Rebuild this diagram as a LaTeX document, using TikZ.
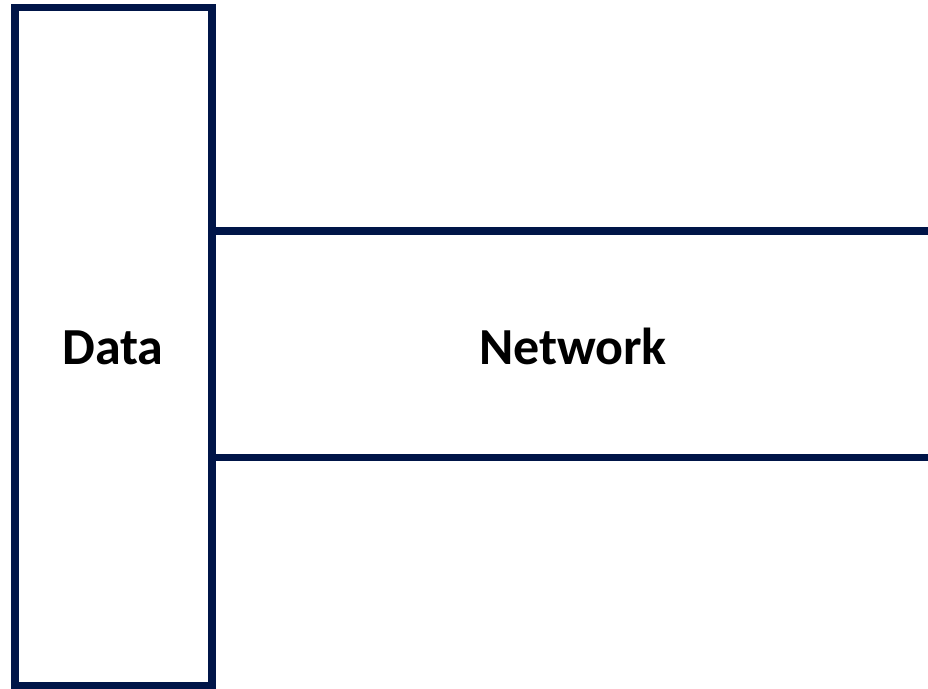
\documentclass[tikz,border=0pt]{standalone}
\usepackage{fontspec}
\setmainfont{Carlito}
\definecolor{navy}{RGB}{0,21,72}
\begin{document}
\begin{tikzpicture}[x=1pt,y=-1pt,
  frame/.style={draw=navy,line width=7.5pt},
  lbl/.style={font=\fontsize{52}{60}\selectfont\bfseries,text=black}]
\useasboundingbox (0,0) rectangle (928,688);
\fill[white] (0,0) rectangle (928,688);
\coordinate (nt) at (212,231);
\coordinate (ntr) at (932,231);
\coordinate (nb) at (212,457.5);
\coordinate (nbr) at (932,457.5);
\draw[frame] (nt) -- (ntr);
\draw[frame] (nb) -- (nbr);
\draw[frame] (15,7.5) rectangle (212,686);
\node[lbl] (data) at (113,348) {Data};
\node[lbl] (network) at (573,346) {Network};
\end{tikzpicture}
\end{document}
